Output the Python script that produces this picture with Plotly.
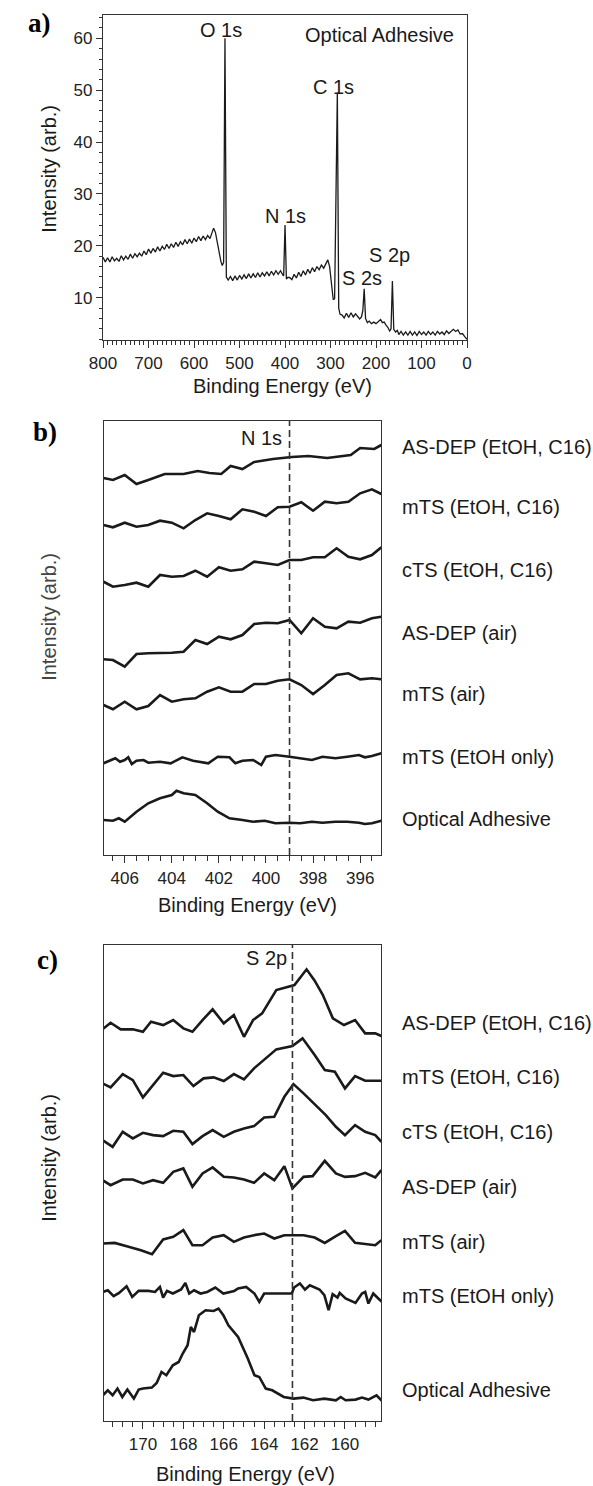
import plotly.graph_objects as go

W, H = 593, 1486
SANS = "Liberation Sans, Arial, Helvetica, sans-serif"
SERIF = "Liberation Serif, Times New Roman, serif"
INK = "#1a1a1a"
AXC = "#333333"

# ---------------- Panel a: survey spectrum ----------------
SURVEY_BE = [800, 795, 790, 785, 780, 775, 770, 765, 760, 755, 750, 745, 740, 735, 730, 725,
             720, 715, 710, 705, 700, 695, 690, 685, 680, 675, 670, 665, 660, 655, 650, 645,
             640, 635, 630, 625, 620, 615, 610, 605, 600, 595, 590, 585, 580, 575, 570, 565,
             561, 557, 553, 549, 545, 541, 538, 535, 532, 529, 525,
             520, 515, 510, 505, 500, 495, 490, 485, 480, 475, 470, 465, 460, 455, 450, 445,
             440, 435, 430, 425, 420, 415, 410, 405, 403, 400, 397, 394,
             390, 385, 380, 375, 370, 365, 360, 355, 350, 345, 340, 335, 330, 325, 320, 315,
             310, 306, 302, 298, 294, 291, 285, 282, 279,
             275, 270, 265, 260, 255, 250, 245, 240, 236, 232, 229, 226, 223, 219, 215, 210,
             205, 200, 195, 190, 186, 182, 178, 174, 170, 167, 164, 161, 157, 153, 150, 145,
             140, 135, 130, 125, 120, 115, 110, 105, 100, 95, 90, 85, 80, 75, 70, 65, 60, 55,
             50, 45, 40, 35, 30, 25, 20, 15, 10, 5, 0]
SURVEY_I = [17.8, 16.9, 17.7, 16.9, 17.9, 17.1, 17.6, 17.0, 18.1, 17.3, 18.0, 17.4, 18.4, 17.6, 18.5, 17.9,
            18.6, 18.0, 19.0, 18.3, 19.4, 18.6, 19.5, 18.8, 19.8, 19.0, 19.9, 19.3, 20.3, 19.5, 20.4, 19.7,
            20.7, 19.9, 20.8, 20.2, 21.2, 20.4, 21.3, 20.5, 21.5, 20.8, 21.8, 21.0, 21.9, 21.2, 22.0, 21.4,
            22.4, 23.4, 22.6, 20.6, 18.6, 17.0, 16.2, 16.8, 60.0, 14.0, 13.4,
            14.1, 13.3, 14.2, 13.4, 14.3, 13.6, 14.4, 13.7, 14.6, 13.8, 14.6, 13.9, 14.8, 14.0, 14.8, 14.2,
            15.0, 14.2, 15.1, 14.4, 15.2, 14.5, 15.2, 14.4, 14.2, 24.0, 13.6, 13.9,
            13.9, 13.5, 14.5, 13.8, 14.9, 14.1, 15.2, 14.4, 15.5, 14.7, 15.8, 15.0, 16.0, 15.4, 16.3, 15.7,
            16.6, 17.3, 16.0, 12.0, 9.6, 9.8, 49.5, 8.0, 6.8,
            6.7, 6.1, 7.0, 6.2, 7.1, 6.3, 6.9, 6.2, 5.9, 6.3, 7.5, 11.7, 6.0, 5.2, 5.5, 5.0,
            5.3, 5.0, 5.4, 5.8, 5.2, 5.3, 4.7, 4.3, 3.6, 4.0, 13.2, 3.9, 3.4, 3.7, 2.9, 3.5,
            2.8, 3.4, 2.8, 3.5, 2.8, 3.4, 2.7, 3.5, 2.9, 3.4, 2.8, 3.5, 2.9, 3.4, 2.8, 3.5, 3.0, 3.4,
            2.9, 3.6, 3.1, 3.6, 3.9, 3.5, 3.8, 3.0, 3.1, 2.5, 2.0]
SURVEY_PEAKS = ["O 1s", "N 1s", "C 1s", "S 2s", "S 2p"]

SAMPLES = ["AS-DEP (EtOH, C16)", "mTS (EtOH, C16)", "cTS (EtOH, C16)", "AS-DEP (air)",
           "mTS (air)", "mTS (EtOH only)", "Optical Adhesive"]

# ---------------- Panel b: N 1s (stacked, arb. units) ----------------
N_GRID = [406.9, 406.5, 406.0, 405.5, 405.0, 404.5, 404.0, 403.5, 403.0, 402.5, 402.0, 401.5, 401.0,
          400.5, 400.0, 399.5, 399.0, 398.5, 398.0, 397.5, 397.0, 396.5, 396.0, 395.5, 395.1]
N_ASDEP_ETOH_X = [406.9, 406.5, 406.0, 405.5, 405.0, 404.3, 403.5, 402.9, 402.4, 401.9, 401.5, 401.0,
                  400.5, 399.7, 398.9, 398.2, 397.4, 396.4, 396.0, 395.4, 395.1]
N_ASDEP_ETOH = [37.7, 37.5, 38.0, 37.1, 37.5, 38.1, 38.1, 38.4, 38.2, 38.1, 38.9, 38.6,
                39.3, 39.6, 39.8, 39.9, 39.7, 40.0, 40.7, 40.6, 41.0]
N_MTS_ETOH = [33.0, 32.77, 33.23, 32.83, 33.0, 33.43, 33.23, 32.67, 33.5, 34.17, 33.9, 33.57, 34.57,
              34.33, 33.9, 34.77, 34.83, 35.27, 34.43, 35.33, 35.17, 35.33, 36.17, 36.57, 36.1]
N_CTS_ETOH = [27.33, 26.83, 27.0, 27.23, 26.83, 28.0, 27.83, 27.9, 28.43, 27.83, 28.77, 28.43, 28.57,
              29.33, 29.17, 29.0, 29.5, 29.5, 29.77, 29.77, 30.67, 29.83, 29.57, 30.0, 30.77]
N_ASDEP_AIR = [19.57, 19.5, 18.83, 20.1, 20.17, 20.17, 20.23, 20.33, 21.5, 21.1, 21.83, 21.57, 22.0,
               23.1, 23.23, 23.17, 23.5, 22.17, 23.67, 22.83, 22.67, 23.33, 23.23, 23.67, 23.83]
N_MTS_AIR = [15.0, 14.57, 15.33, 14.57, 14.9, 16.0, 15.33, 15.57, 15.67, 16.33, 16.77, 16.33, 16.33,
             17.1, 17.1, 17.43, 17.57, 17.0, 16.1, 17.0, 18.0, 18.17, 17.57, 17.67, 17.57]
N_MTS_ONLY_X = [406.9, 406.65, 406.4, 406.2, 406.0, 405.85, 405.7, 405.5, 405.2, 405.0, 404.5, 404.05,
                403.55, 403.1, 402.45, 402.05, 401.55, 401.3, 401.0, 400.55, 400.2, 400.0, 399.6,
                399.0, 398.55, 398.05, 397.6, 397.05, 396.55, 396.05, 395.8, 395.5, 395.1]
N_MTS_ONLY = [9.17, 9.43, 9.67, 9.33, 9.5, 9.77, 9.1, 9.43, 9.5, 9.23, 9.33, 9.17, 9.77, 9.43, 9.17,
              9.83, 9.77, 9.17, 9.43, 9.5, 9.0, 9.83, 10.0, 9.83, 9.67, 9.5, 9.83, 9.67, 9.83, 10.0,
              9.77, 9.9, 10.17]
N_OA_X = [406.9, 406.5, 406.25, 406.0, 405.5, 405.0, 404.5, 404.0, 403.8, 403.5, 403.0, 402.5, 402.05,
          401.55, 401.0, 400.55, 400.05, 399.6, 399.0, 398.55, 398.05, 397.6, 397.05, 396.55, 396.05,
          395.8, 395.5, 395.1]
N_OA = [3.5, 3.43, 3.67, 3.33, 4.33, 5.17, 5.67, 6.0, 6.43, 6.17, 6.0, 5.17, 4.33, 3.67, 3.5, 3.33,
        3.43, 3.17, 3.23, 3.17, 3.33, 3.23, 3.33, 3.33, 3.23, 3.1, 3.17, 3.43]
N_LINE = 399.0

# ---------------- Panel c: S 2p (stacked, arb. units) ----------------
S_ASDEP_ETOH_X = [172.0, 171.6, 171.1, 170.5, 170.0, 169.6, 169.0, 168.5, 168.0, 167.55, 167.05, 166.55,
                  166.0, 165.5, 165.0, 164.55, 164.1, 163.7, 163.4, 162.5, 161.9, 161.5, 161.1, 160.6,
                  160.05, 159.5, 159.0, 158.5, 158.2]
S_ASDEP_ETOH = [39.14, 39.8, 39.14, 39.14, 38.9, 39.9, 39.57, 40.07, 39.24, 38.9, 40.07, 41.14, 39.74,
                40.57, 38.4, 40.07, 40.74, 42.07, 43.07, 43.57, 45.14, 44.0, 42.6, 40.24, 39.57, 40.07,
                38.74, 38.74, 38.47]
S_MTS_ETOH_X = [172.0, 171.6, 171.0, 170.5, 170.0, 169.5, 169.0, 168.5, 168.0, 167.5, 167.0, 166.5,
                166.0, 165.5, 165.0, 164.5, 164.0, 163.4, 162.6, 162.1, 161.5, 161.0, 160.5, 160.0,
                159.5, 159.0, 158.2]
S_MTS_ETOH = [33.74, 33.34, 34.67, 34.07, 32.34, 33.57, 34.8, 34.47, 34.57, 33.47, 34.24, 34.34, 33.97,
              34.67, 34.14, 35.24, 36.07, 37.14, 37.47, 38.24, 36.57, 35.07, 34.9, 33.24, 34.47, 34.0,
              34.0]
S_CTS_ETOH_X = [172.0, 171.5, 171.0, 170.5, 170.0, 169.5, 169.0, 168.5, 168.0, 167.55, 167.05, 166.55,
                166.0, 165.5, 165.0, 164.5, 164.0, 163.5, 163.0, 162.55, 162.05, 161.4, 160.95, 160.45,
                160.0, 159.5, 159.0, 158.5, 158.2]
S_CTS_ETOH = [28.07, 27.4, 28.9, 28.24, 28.8, 28.57, 28.47, 29.0, 28.9, 27.67, 28.47, 29.07, 28.4,
              28.9, 29.24, 29.47, 30.34, 30.4, 32.4, 33.67, 32.74, 31.4, 30.57, 29.4, 28.57, 29.57,
              28.9, 28.57, 27.9]
S_ASDEP_AIR_X = [172.0, 171.6, 171.0, 170.5, 170.0, 169.5, 169.0, 168.5, 168.0, 167.55, 167.05, 166.55,
                 166.0, 165.5, 165.0, 164.5, 164.0, 163.5, 163.0, 162.6, 162.05, 161.6, 161.0, 160.45,
                 160.0, 159.5, 159.0, 158.5, 158.2]
S_ASDEP_AIR = [24.07, 23.57, 24.14, 24.14, 23.74, 24.07, 23.8, 24.9, 25.24, 23.4, 24.74, 25.34, 24.4,
               24.34, 24.14, 23.8, 24.74, 24.07, 25.47, 23.24, 24.4, 24.47, 26.0, 24.74, 24.4, 24.47,
               24.8, 24.34, 25.07]
S_MTS_AIR_X = [172.0, 171.4, 170.8, 170.1, 169.55, 169.0, 168.5, 168.0, 167.55, 167.05, 166.55, 166.0,
               165.5, 165.0, 164.5, 164.0, 163.5, 163.0, 162.55, 162.05, 161.5, 161.0, 160.45, 160.0,
               159.5, 159.0, 158.5, 158.2]
S_MTS_AIR = [17.74, 17.8, 17.47, 17.07, 16.67, 18.14, 18.4, 19.07, 17.57, 17.57, 18.34, 18.57, 17.9,
             18.34, 18.57, 18.74, 18.24, 18.57, 18.57, 18.57, 18.34, 17.8, 18.47, 19.0, 17.8, 17.67,
             17.57, 18.07]
S_MTS_ONLY_X = [171.98, 171.74, 171.45, 171.18, 170.81, 170.53, 170.21, 169.73, 169.4, 169.16, 169.0,
                168.81, 168.52, 168.11, 167.9, 167.71, 167.47, 167.15, 166.82, 166.42, 166.02, 165.48,
                165.29, 164.89, 164.48, 164.24, 164.0, 163.52, 163.03, 162.63, 162.52, 162.23, 161.98,
                161.74, 161.26, 161.02, 160.81, 160.61, 160.37, 160.26, 159.97, 159.48, 159.16, 159.0,
                158.84, 158.6, 158.35, 158.16]
S_MTS_ONLY = [12.9, 13.07, 12.47, 12.8, 13.47, 12.4, 13.0, 13.0, 12.9, 13.4, 12.34, 13.0, 12.74, 13.14,
              13.8, 12.74, 13.07, 12.74, 12.9, 13.34, 12.74, 13.0, 13.24, 13.4, 12.74, 11.9, 12.74,
              12.74, 12.8, 12.74, 13.34, 13.74, 13.14, 13.57, 13.14, 12.57, 11.07, 12.67, 12.34, 12.8,
              12.24, 11.8, 12.74, 12.9, 11.74, 12.74, 12.24, 11.9]
S_OA_X = [171.98, 171.74, 171.5, 171.26, 171.02, 170.77, 170.45, 170.21, 170.0, 169.56, 169.32, 169.08,
          168.84, 168.52, 168.23, 168.03, 167.79, 167.63, 167.47, 167.23, 166.9, 166.5, 166.26, 166.02,
          165.77, 165.29, 164.81, 164.48, 164.24, 163.92, 163.6, 163.03, 162.55, 162.06, 161.58,
          161.02, 160.45, 160.21, 159.97, 159.48, 159.16, 158.84, 158.44, 158.16]
S_OA = [2.57, 3.07, 2.57, 3.24, 2.4, 3.14, 2.24, 3.14, 3.24, 3.34, 3.8, 4.9, 4.57, 5.57, 5.9, 6.74, 7.57,
        9.4, 8.9, 10.57, 11.07, 11.0, 11.24, 10.57, 9.57, 8.4, 6.24, 4.57, 4.4, 3.24, 3.07, 2.4, 2.24,
        2.34, 2.07, 2.24, 2.07, 2.4, 2.07, 2.14, 2.34, 2.14, 2.57, 2.0]
S_LINE = 162.6

N_SERIES = [(N_ASDEP_ETOH_X, N_ASDEP_ETOH), (N_GRID, N_MTS_ETOH), (N_GRID, N_CTS_ETOH),
            (N_GRID, N_ASDEP_AIR), (N_GRID, N_MTS_AIR), (N_MTS_ONLY_X, N_MTS_ONLY), (N_OA_X, N_OA)]
S_SERIES = [(S_ASDEP_ETOH_X, S_ASDEP_ETOH), (S_MTS_ETOH_X, S_MTS_ETOH), (S_CTS_ETOH_X, S_CTS_ETOH),
            (S_ASDEP_AIR_X, S_ASDEP_AIR), (S_MTS_AIR_X, S_MTS_AIR), (S_MTS_ONLY_X, S_MTS_ONLY),
            (S_OA_X, S_OA)]

# label rows (pixel y) for the right-hand sample names
N_LABEL_Y = [447, 507, 570, 633, 694, 757, 819]
S_LABEL_Y = [1023, 1077, 1132, 1187, 1242, 1296, 1390]


def px(x):
    return x / W


def py(y):
    return 1 - y / H


fig = go.Figure()
fig.add_trace(go.Scatter(x=SURVEY_BE, y=SURVEY_I, mode="lines", xaxis="x", yaxis="y",
                         line=dict(color=INK, width=1.3), showlegend=False, hoverinfo="skip"))
for xs, ys in N_SERIES:
    fig.add_trace(go.Scatter(x=xs, y=ys, mode="lines", xaxis="x2", yaxis="y2",
                             line=dict(color=INK, width=2.6), showlegend=False))
for xs, ys in S_SERIES:
    fig.add_trace(go.Scatter(x=xs, y=ys, mode="lines", xaxis="x3", yaxis="y3",
                             line=dict(color=INK, width=2.6), showlegend=False))

box = dict(showline=True, mirror=True, linecolor=AXC, linewidth=1.3, showgrid=False,
           zeroline=False, ticks="outside", tickcolor=AXC, tickwidth=1.2,
           tickfont=dict(family=SANS, size=17, color="#222"))

fig.update_layout(
    width=W, height=H, margin=dict(l=0, r=0, t=0, b=0),
    paper_bgcolor="white", plot_bgcolor="white", showlegend=False,
    font=dict(family=SANS, size=17, color="#222"),
    xaxis=dict(box, domain=[px(92), px(468)], range=[800, 0], anchor="y", dtick=100, tick0=0,
               ticklen=7, minor=dict(dtick=10, tick0=0, ticklen=4, ticks="outside", tickcolor=AXC)),
    yaxis=dict(box, domain=[py(340), py(15)], range=[1.85, 64.5], anchor="x", dtick=10, tick0=0,
               ticklen=6, minor=dict(dtick=2, tick0=0, ticklen=3, ticks="outside", tickcolor=AXC)),
    xaxis2=dict(box, domain=[px(92.5), px(379.5)], range=[406.9, 395.1], anchor="y2", dtick=2, tick0=0,
                ticklen=7, minor=dict(dtick=0.5, tick0=0, ticklen=5, ticks="outside", tickcolor=AXC)),
    yaxis2=dict(box, domain=[py(855), py(421)], range=[0, 43.4], anchor="x2", ticks="",
                showticklabels=False),
    xaxis3=dict(box, domain=[px(92.5), px(379.5)], range=[171.95, 158.2], anchor="y3", dtick=2, tick0=0,
                ticklen=7, minor=dict(dtick=0.5, tick0=0, ticklen=5, ticks="outside", tickcolor=AXC)),
    yaxis3=dict(box, domain=[py(1421), py(945)], range=[0, 47.57], anchor="x3", ticks="",
                showticklabels=False),
)

dash = dict(color="#333", width=1.6, dash="7px,4px")
fig.add_shape(type="line", xref="x2", yref="y2 domain", x0=N_LINE, x1=N_LINE, y0=0, y1=1, line=dash)
fig.add_shape(type="line", xref="x3", yref="y3 domain", x0=S_LINE, x1=S_LINE, y0=0, y1=1, line=dash)

ann = []
T20 = dict(family=SANS, size=20, color=INK)


def label(x, y, text, xanchor="center", font=T20, **kw):
    ann.append(dict(x=px(x), y=py(y), xref="paper", yref="paper", text=text, showarrow=False,
                    xanchor=xanchor, yanchor="middle", font=font, **kw))


# peak labels in panel a (data coordinates)
peak_pos = [(540, 61.6), (400, 25.8), (293, 50.6), (230, 13.8), (170, 18.2)]
for name, (bx, iy) in zip(SURVEY_PEAKS, peak_pos):
    ann.append(dict(x=bx, y=iy, xref="x", yref="y", text=name, showarrow=False,
                    xanchor="center", yanchor="middle", font=T20))
label(457, 35, "Optical Adhesive", xanchor="right")
# core-level markers next to the dashed lines
label(279, 438, "N 1s", xanchor="right")
label(284, 958, "S 2p", xanchor="right")
# sample names
for name, yy in zip(SAMPLES, N_LABEL_Y):
    label(398.5, yy, name, xanchor="left")
for name, yy in zip(SAMPLES, S_LABEL_Y):
    label(398.5, yy, name, xanchor="left")
# axis titles
for cx, cy in [(277, 386), (241, 905), (239, 1474)]:
    label(cx, cy, "Binding Energy (eV)")
for cy, col in [(169, INK), (617, "#444"), (1158, INK)]:
    label(36, cy, "Intensity (arb.)", textangle=-90, font=dict(family=SANS, size=20, color=col))
# panel letters
for lab, cx, cy in [("a)", 26, 23), ("b)", 32, 432), ("c)", 35, 960)]:
    label(cx, cy, "<b>" + lab + "</b>", font=dict(family=SERIF, size=27, color="#000"))
fig.update_layout(annotations=ann)

fig.write_html("out.html")
